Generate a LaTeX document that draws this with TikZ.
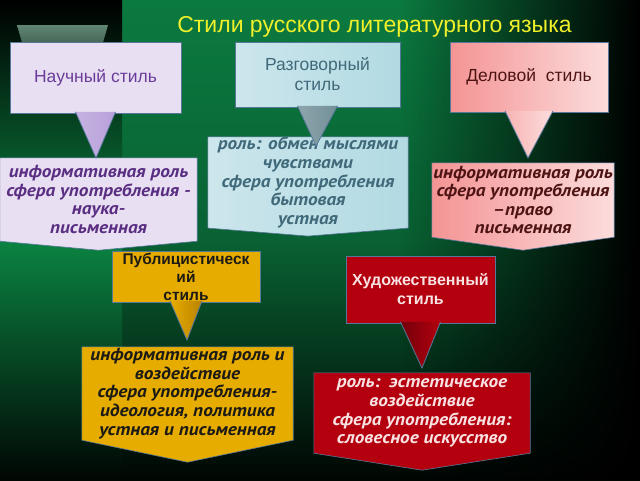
\documentclass[tikz,border=0pt]{standalone}
\usepackage{fontspec}
\setmainfont{Liberation Sans}
\newfontfamily\descfont[FakeStretch=1.1]{PT Sans}
\usepackage{tikz}
\usetikzlibrary{calc, fadings, backgrounds}

\definecolor{bgGreen}{HTML}{0B7A40}
\definecolor{stripGreen}{HTML}{0B8442}
\definecolor{frameBlue}{HTML}{56779A}
\definecolor{titleYellow}{HTML}{F0F02A}
\definecolor{lavLight}{HTML}{E8E0F2}
\definecolor{lavMid}{HTML}{B8A0DA}
\definecolor{lavText}{HTML}{6A3C9A}
\definecolor{lavDesc}{HTML}{5A2E82}
\definecolor{blueLight}{HTML}{CCE6EC}
\definecolor{blueMid}{HTML}{728F98}
\definecolor{blueRight}{HTML}{B2DAE2}
\definecolor{blueText}{HTML}{40697A}
\definecolor{pinkDark}{HTML}{F49494}
\definecolor{pinkLight}{HTML}{FCDCDC}
\definecolor{pinkText}{HTML}{4E1414}
\definecolor{goldLight}{HTML}{E6AC00}
\definecolor{goldDark}{HTML}{B98300}
\definecolor{goldText}{HTML}{1C1A14}
\definecolor{redLight}{HTML}{B4000E}
\definecolor{redDark}{HTML}{72000A}
\definecolor{redText}{HTML}{F8E2E2}
\definecolor{marble}{HTML}{44705A}

\begin{document}
\begin{tikzpicture}[x=1pt, y=-1pt,
                headbox/.style={
                  draw=frameBlue, line width=0.8pt, align=center, inner sep=0pt,
                  font=\fontsize{17.5}{20}\selectfont
                },
                descbox/.style={
                  align=center, inner sep=0pt,
                  font=\descfont\bfseries\itshape\fontsize{17.5}{18.6}\selectfont
                },
                descframe/.style={draw=frameBlue, line width=0.6pt},
                pointer/.style={draw=frameBlue, line width=0.8pt},
                lavFill/.style={left color=lavLight, middle color=lavMid, right color=lavLight},
                blueFill/.style={left color=blueLight, middle color=blueMid, right color=blueRight},
                pinkFill/.style={left color=pinkDark, middle color=pinkLight!70!pinkDark, right color=pinkLight},
                goldFill/.style={left color=goldLight, middle color=goldDark, right color=goldLight},
                redFill/.style={left color=redLight, middle color=redDark, right color=redLight},
              ]
  \useasboundingbox (0,0) rectangle (640,480);

  % background
  \begin{scope}[on background layer]
    \fill[bgGreen] (0,0) rectangle (640,480);
    \shade[top color=bgGreen, bottom color=bgGreen!80!black] (122,0) rectangle (640,240);
    \shade[top color=bgGreen!80!black, bottom color=black!95!bgGreen] (122,240) rectangle (640,480);
    \shade[top color=black, bottom color=stripGreen] (0,0) rectangle (122,240);
    \shade[top color=stripGreen, bottom color=black!95!bgGreen] (0,240) rectangle (122,480);
    \fill[black, path fading=west] (400,0) rectangle (640,480);
  \end{scope}

  \shade[top color=marble!85!white, bottom color=marble!65!black]
    (17,25) -- (108,25) -- (98,60) -- (27,60) -- cycle;

  \node[font=\fontsize{23}{27}\selectfont, text=titleYellow] (ttl) at (374.5,27)
    {Стили русского литературного языка};

  % styles
  \node[headbox, lavFill, text=lavText, minimum width=171, minimum height=71]
    (s1) at (95.5,77.5) {Научный стиль};
  \node[headbox, blueFill, text=blueText, minimum width=165, minimum height=65]
    (s2) at (317.5,74.5) {Разговорный\\стиль};
  \node[headbox, pinkFill, text=pinkText, minimum width=158, minimum height=70]
    (s3) at (529,77) {Деловой\ \ стиль};
  \node[headbox, goldFill, text=goldText, font=\bfseries\fontsize{15.5}{18}\selectfont,
        minimum width=148, minimum height=51]
    (s4) at (186,276.5) {Публицистическ\\ий\\стиль};
  \node[headbox, redFill, text=redText, font=\bfseries\fontsize{16}{19}\selectfont,
        minimum width=149, minimum height=67]
    (s5) at (420.5,289.5) {Художественный\\стиль};

  % descriptions
  \node[descbox, text=lavDesc, minimum width=197, minimum height=83] (d1) at (98.5,199.5)
    {информативная роль\\сфера употребления -\\наука-\\письменная};
  \node[descbox, text=blueText, minimum width=200, minimum height=89] (d2) at (308,182.5)
    {роль: обмен мыслями\\чувствами\\сфера употребления\\бытовая\\устная};
  \node[descbox, text=pinkText, minimum width=182, minimum height=74] (d3) at (523,200)
    {информативная роль\\сфера употребления\\–право\\письменная};
  \node[descbox, text=goldText, minimum width=211, minimum height=93] (d4) at (187.5,393.5)
    {информативная роль и\\воздействие\\сфера употребления-\\идеология, политика\\устная и письменная};
  \node[descbox, text=redText, minimum width=216, minimum height=80] (d5) at (422,413)
    {роль:\enspace эстетическое\\воздействие\\сфера употребления:\\словесное искусство};

  \begin{scope}[on background layer]
    \path[descframe, lavFill] (d1.north west) -- (d1.north east) -- (d1.south east)
      -- ($(d1.south)+(0,9)$) -- (d1.south west) -- cycle;
    \path[descframe, blueFill] (d2.north west) -- (d2.north east) -- (d2.south east)
      -- ($(d2.south)+(0,8)$) -- (d2.south west) -- cycle;
    \path[descframe, pinkFill] (d3.north west) -- (d3.north east) -- (d3.south east)
      -- ($(d3.south)+(0,13)$) -- (d3.south west) -- cycle;
    \path[descframe, goldFill] (d4.north west) -- (d4.north east) -- (d4.south east)
      -- ($(d4.south)+(0,22)$) -- (d4.south west) -- cycle;
    \path[descframe, redFill] (d5.north west) -- (d5.north east) -- (d5.south east)
      -- ($(d5.south)+(0,17)$) -- (d5.south west) -- cycle;
  \end{scope}

  % pointers
  \coordinate (t1) at (96,158);
  \coordinate (t2) at (316,146);
  \coordinate (t3) at (528,158);
  \coordinate (t4) at (187,340);
  \coordinate (t5) at (422,368);
  \path[pointer, left color=lavMid!80!white, right color=lavMid]
    ($(s1.south)+(-20,-1.5)$) -- (t1) -- ($(s1.south)+(20,-1.5)$);
  \path[pointer, left color=blueMid!80!white, right color=blueMid]
    ($(s2.south)+(-20,-1.5)$) -- (t2) -- ($(s2.south)+(20,-1.5)$);
  \path[pointer, left color=pinkDark!70!white, right color=pinkLight]
    ($(s3.south)+(-24,-1.5)$) -- (t3) -- ($(s3.south)+(24,-1.5)$);
  \path[pointer, left color=goldLight, right color=goldDark]
    ($(s4.south)+(-16,-1.5)$) -- (t4) -- ($(s4.south)+(16,-1.5)$);
  \path[pointer, left color=redDark, right color=redLight]
    ($(s5.south)+(-20,-1.5)$) -- (t5) -- ($(s5.south)+(20,-1.5)$);
\end{tikzpicture}
\end{document}
